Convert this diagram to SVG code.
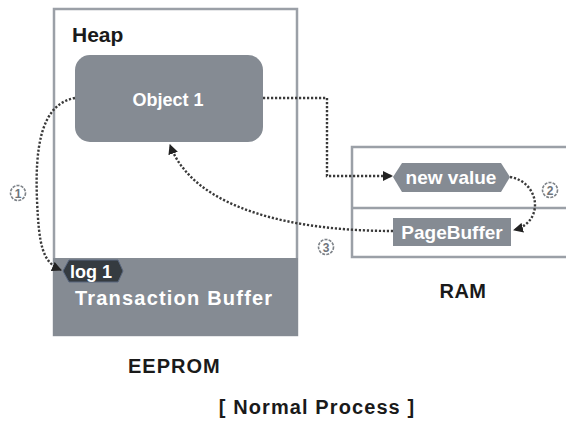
<svg xmlns="http://www.w3.org/2000/svg" width="566" height="426" viewBox="0 0 566 426">
  <defs>
    <style>
      .frame { fill: #ffffff; stroke: #9ba0a7; stroke-width: 2.5; }
      .block { fill: #858b93; }
      .dark { fill: #353b40; stroke: #5a6880; stroke-width: 1; }
      .wt { fill: #ffffff; font-family: "Liberation Sans", Arial, sans-serif; font-weight: bold; }
      .bk { fill: #1a1a1a; font-family: "Liberation Sans", Arial, sans-serif; font-weight: bold; }
      .dot { fill: none; stroke: #3a3a3a; stroke-width: 2.4; stroke-dasharray: 2.2 1.8; }
      .num circle { fill: #ffffff; stroke: #7d8288; stroke-width: 1.6; stroke-dasharray: 3 1.2; }
      .num text { fill: #6f747a; font-family: "Liberation Sans", Arial, sans-serif; font-weight: bold; font-size: 12px; text-anchor: middle; }
    </style>
    <marker id="arrow" viewBox="0 0 10 10" refX="9" refY="5" markerWidth="10" markerHeight="10" markerUnits="userSpaceOnUse" orient="auto">
      <path d="M0,0 L10,5 L0,10 Z" fill="#222222"/>
    </marker>
  </defs>

  <!-- EEPROM: heap area with transaction buffer at the bottom -->
  <g id="eeprom">
    <rect class="frame" x="54" y="9" width="243" height="326"/>
    <rect class="block" x="53" y="258" width="245" height="78"/>
    <text class="bk" x="72" y="42" font-size="21">Heap</text>
    <text class="wt" x="75" y="305" font-size="20" letter-spacing="1.2">Transaction Buffer</text>
    <text class="bk" x="128" y="373" font-size="20" letter-spacing="1">EEPROM</text>
  </g>

  <g id="object1">
    <rect class="block" x="75" y="55" width="188" height="87" rx="15" ry="15"/>
    <text class="wt" x="168" y="106" font-size="18" text-anchor="middle">Object 1</text>
  </g>

  <g id="log1">
    <polygon class="dark" points="63,271 69,260 118,260 123,271 118,282 69,282"/>
    <text class="wt" x="91" y="278" font-size="18" text-anchor="middle">log 1</text>
  </g>

  <!-- RAM: two stacked slots -->
  <g id="ram">
    <path class="frame" d="M570,147 L352,147 L352,257 L570,257"/>
    <line x1="352" y1="208" x2="570" y2="208" stroke="#9ba0a7" stroke-width="2.5"/>
    <text class="bk" x="463" y="298" font-size="20" letter-spacing="0.5" text-anchor="middle">RAM</text>
  </g>

  <g id="newvalue">
    <polygon class="block" points="393,177 402,163 501,163 510,177 501,192 402,192"/>
    <text class="wt" x="451" y="184" font-size="19" text-anchor="middle">new value</text>
  </g>

  <g id="pagebuffer">
    <rect class="block" x="393" y="218" width="118" height="28"/>
    <text class="wt" x="452" y="239" font-size="19" text-anchor="middle">PageBuffer</text>
  </g>

  <g id="connectors">
    <path class="dot" d="M75,98 C40,104 35,150 37,200 C39,245 42,262 61,270" marker-end="url(#arrow)"/>
    <path class="dot" d="M263,98 L327,98 L327,176 L392,176" marker-end="url(#arrow)"/>
    <path class="dot" d="M510,177 C540,182 545,222 514,230" marker-end="url(#arrow)"/>
    <path class="dot" d="M393,231 C300,231 195,212 170,145" marker-end="url(#arrow)"/>
  </g>

  <g id="steps">
    <g class="num"><circle cx="18" cy="193" r="7.5"/><text x="18" y="197.5">1</text></g>
    <g class="num"><circle cx="550" cy="190" r="7.5"/><text x="550" y="194.5">2</text></g>
    <g class="num"><circle cx="326" cy="247" r="7.5"/><text x="326" y="251.5">3</text></g>
  </g>

  <text class="bk" x="317" y="414" font-size="20" letter-spacing="1.1" text-anchor="middle">[ Normal Process ]</text>
</svg>
